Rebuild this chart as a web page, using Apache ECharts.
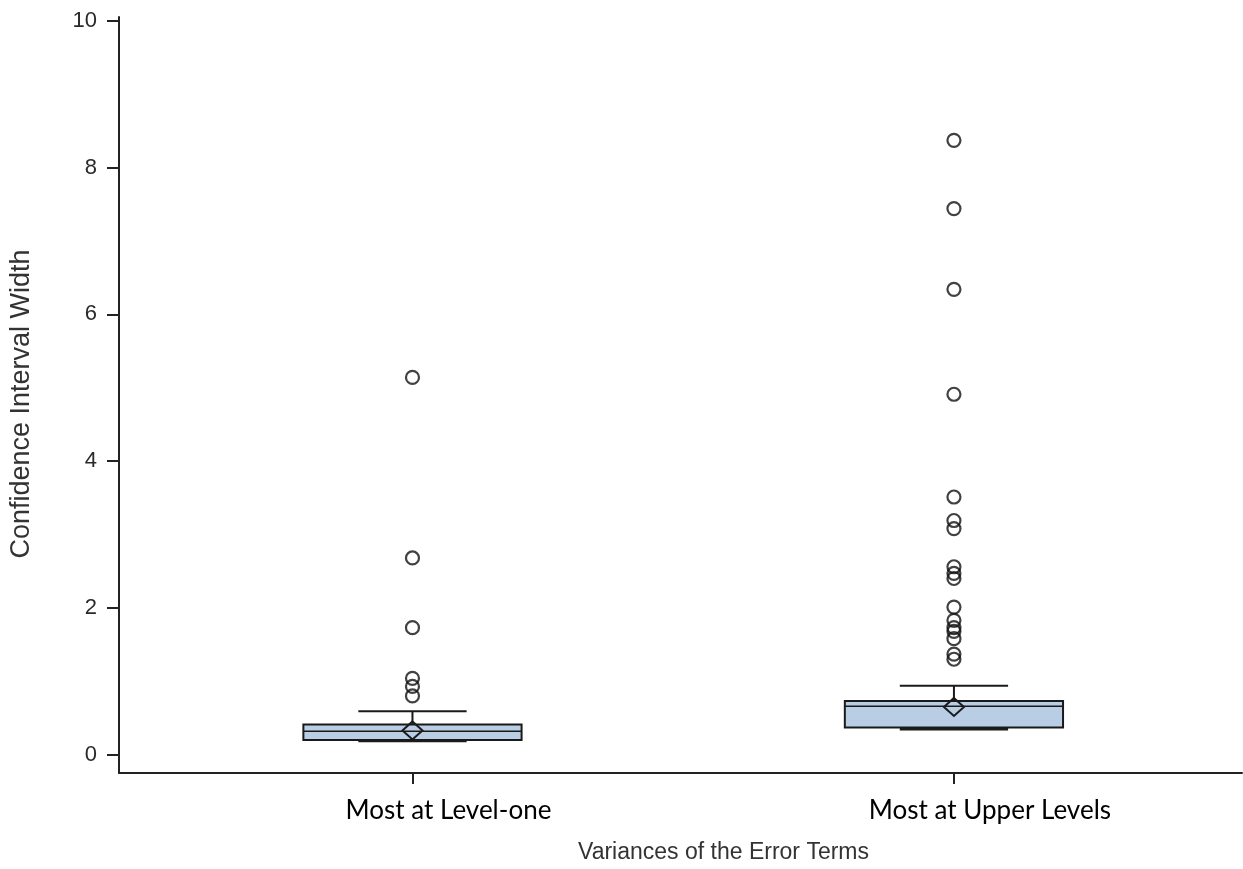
<!DOCTYPE html>
<html>
<head>
<meta charset="utf-8">
<script src="https://cdn.jsdelivr.net/npm/echarts@6/dist/echarts.min.js"></script>
<style>
html,body{margin:0;padding:0;background:#fff;}
#chart{width:1243px;height:869px;}
</style>
</head>
<body>
<div id="chart"></div>
<script>
const categories = ['Most at Level-one', 'Most at Upper Levels'];
const whiskerLow = [0.19, 0.35];
const q1 = [0.20, 0.37];
const median = [0.32, 0.66];
const q3 = [0.41, 0.73];
const whiskerHigh = [0.59, 0.94];
const means = [0.33, 0.65];
const outliersLevelOne = [5.14, 2.68, 1.73, 1.04, 0.93, 0.80];
const outliersUpper = [8.37, 7.44, 6.34, 4.91, 3.51, 3.19, 3.08, 2.56, 2.47, 2.40, 2.01, 1.83, 1.73, 1.68, 1.58, 1.37, 1.30];
const yTicks = [0, 2, 4, 6, 8, 10];
const catPositions = [1, 2];

const boxData = categories.map((c, i) => [catPositions[i], whiskerLow[i], q1[i], median[i], q3[i], whiskerHigh[i], means[i]]);
const outlierData = [];
outliersLevelOne.forEach(v => outlierData.push([catPositions[0], v]));
outliersUpper.forEach(v => outlierData.push([catPositions[1], v]));

const chart = echarts.init(document.getElementById('chart'), null, {renderer: 'canvas'});
chart.setOption({
  animation: false,
  backgroundColor: '#ffffff',
  grid: {left: 117, right: 1, top: 17, bottom: 90, containLabel: false},
  xAxis: {
    type: 'value',
    min: 0.458, max: 2.532,
    name: 'Variances of the Error Terms',
    nameLocation: 'middle',
    nameGap: 68,
    nameTextStyle: {fontFamily: 'Liberation Sans', fontSize: 23, color: '#333', padding: [0, 0, 0, 86]},
    axisLine: {onZero: false, lineStyle: {color: '#222', width: 2}},
    axisTick: {show: true, length: 11, lineStyle: {color: '#222', width: 2}, customValues: catPositions},
    axisLabel: {
      customValues: catPositions,
      formatter: v => categories[Math.round(v) - 1],
      fontFamily: 'Lato', fontSize: 26, color: '#000', margin: 25,
      padding: [0, 0, 0, 72]
    },
    splitLine: {show: false}
  },
  yAxis: {
    type: 'value',
    min: -0.25, max: 10.05,
    name: 'Confidence Interval Width',
    nameLocation: 'middle',
    nameRotate: 90,
    nameGap: 84,
    nameTextStyle: {fontFamily: 'Liberation Sans', fontSize: 27, color: '#333', padding: [0, 18, 0, 0]},
    axisLine: {show: true, onZero: false, lineStyle: {color: '#222', width: 2}},
    axisTick: {show: true, length: 12, lineStyle: {color: '#222', width: 2}, customValues: yTicks},
    axisLabel: {customValues: yTicks, fontFamily: 'Liberation Sans', fontSize: 22, color: '#2a2a2a', margin: 22},
    splitLine: {show: false}
  },
  series: [
    {
      type: 'custom',
      data: boxData,
      encode: {x: 0, y: [1, 2, 3, 4, 5, 6]},
      renderItem: function (params, api) {
        const x = api.value(0);
        const c = v => api.coord([x, v]);
        const pLow = c(api.value(1)), pQ1 = c(api.value(2)), pMed = c(api.value(3));
        const pQ3 = c(api.value(4)), pHigh = c(api.value(5)), pMean = c(api.value(6));
        const cx = pMed[0];
        const bh = api.size([0.403, 0])[0] / 2;
        const ch = api.size([0.2, 0])[0] / 2;
        const dw = 10, dh = 9;
        const stroke = '#1a1a1a';
        return {
          type: 'group',
          children: [
            {type: 'line', shape: {x1: cx, y1: pQ3[1], x2: cx, y2: pHigh[1]}, style: {stroke: stroke, lineWidth: 2}},
            {type: 'line', shape: {x1: cx - ch, y1: pHigh[1], x2: cx + ch, y2: pHigh[1]}, style: {stroke: stroke, lineWidth: 2}},
            {type: 'line', shape: {x1: cx, y1: pQ1[1], x2: cx, y2: pLow[1]}, style: {stroke: stroke, lineWidth: 2}},
            {type: 'rect', shape: {x: cx - bh, y: pQ3[1], width: 2 * bh, height: pQ1[1] - pQ3[1]}, style: {fill: '#b9cde5', stroke: stroke, lineWidth: 2}},
            {type: 'line', shape: {x1: cx - bh, y1: pMed[1], x2: cx + bh, y2: pMed[1]}, style: {stroke: stroke, lineWidth: 1.5}},
            {type: 'line', shape: {x1: cx - ch, y1: pLow[1], x2: cx + ch, y2: pLow[1]}, style: {stroke: stroke, lineWidth: 3}},
            {type: 'polygon', shape: {points: [[cx, pMean[1] - dh], [cx + dw, pMean[1]], [cx, pMean[1] + dh], [cx - dw, pMean[1]]]}, style: {fill: 'rgba(0,0,0,0)', stroke: stroke, lineWidth: 2}}
          ]
        };
      },
      z: 2
    },
    {
      type: 'scatter',
      data: outlierData,
      symbol: 'circle',
      symbolSize: 13,
      itemStyle: {color: 'rgba(0,0,0,0)', borderColor: '#111', borderWidth: 2.2},
      z: 3
    }
  ]
});
</script>
</body>
</html>
